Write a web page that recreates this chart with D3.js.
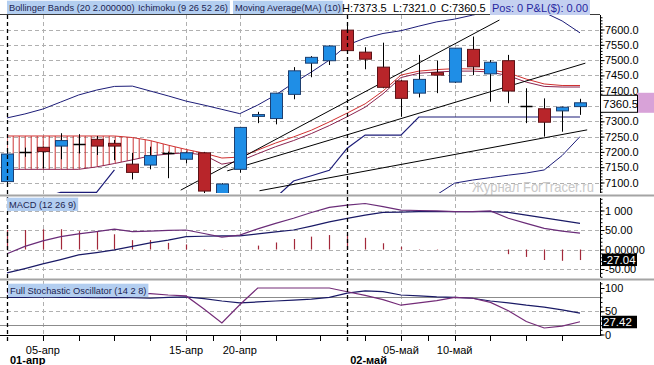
<!DOCTYPE html>
<html>
<head>
<meta charset="utf-8">
<script src="https://cdn.jsdelivr.net/npm/d3@7"></script>
<style>
  body { margin: 0; background: #fff; }
  svg text { font-family: "Liberation Sans", Arial, sans-serif; }
</style>
</head>
<body>
<svg id="chart" width="654" height="365"></svg>
<script>
// ---- data ----
const dates = ["01-апр","04-апр","05-апр","06-апр","07-апр","08-апр","11-апр","12-апр","13-апр","14-апр",
  "15-апр","18-апр","19-апр","20-апр","21-апр","26-апр","27-апр","28-апр","29-апр","02-май",
  "03-май","04-май","05-май","06-май","09-май","10-май","11-май","12-май","13-май","16-май",
  "17-май","18-май","19-май"];

const openP  = [7103,7201,7215,7219,7226,7241,7228,7160,7157,7195,7176,7197,7062,7143,7316,7309,7388,7490,7498,7598,7526,7477,7432,7392,7459,7428,7535,7455,7498,7351,7341,7334,7348];
const highP  = [7200,7214,7217,7261,7258,7252,7239,7197,7217,7201,7201,7200,7098,7282,7331,7393,7477,7513,7548,7622,7542,7557,7435,7517,7498,7540,7577,7500,7517,7408,7375,7348,7373.5];
const lowP   = [7090,7184,7146,7176,7195,7190,7173,7110,7143,7114,7163,7060,7050,7132,7294,7290,7372,7444,7484,7528,7470,7408,7315,7378,7392,7425,7451,7364,7359,7294,7250,7266,7321];
const closeP = [7193,7201,7201,7237,7226,7219,7219,7133,7188,7195,7197,7072,7095,7280,7322,7392,7465,7509,7546,7531,7503,7411,7375,7437,7451,7539,7478,7493,7399,7351,7297,7346,7360.5];

const bbUpper = [7311,7324,7340,7363,7386,7402,7414,7415,7399,7383,7366,7353,7339,7325,7353,7386,7425,7461,7500,7549,7572,7587,7596,7611,7625,7634,7647,7660,7668,7668,7656,7628,7589];
const bbLower = [null,null,null,null,null,null,null,null,null,null,null,null,null,null,null,null,null,null,null,null,null,null,null,null,7060,7098,7108,7116,7124,7131,7141,7188,7250];
const spanA = [7252,7252,7252,7252,7252,7252,7252,7247,7237,7222,7208,7196,7180,7183,7206,7229,7249,7271,7298,7327,7357,7399,7451,7464,7469,7472,7471,7468,7458,7438,7422,7417,7417];
const spanB = [7143,7143,7143,7143,7143,7151,7162,7174,7187,7193,7197,7190,7160,7170,7194,7217,7237,7260,7286,7315,7346,7390,7443,7457,7461,7464,7464,7461,7449,7428,7414,7412,7412];
const kijun = [null,null,7050,7068,7068,7068,7141,null,null,null,null,null,null,null,null,7050,7105,7122,7140,7212,7255,7255,7255,7314,7314,7314,7314,7314,7314,7314,7314,7314,7314];
const cloudEnd = 11;

// user trend lines: [index, price] end points
const trendLines = [
  [[9.7, 7075], [27.5, 7631]],
  [[12.3, 7138], [32.3, 7490]],
  [[14.1, 7073], [32.4, 7272]]
];

const macdLine   = [-11,8,22,33,40,46,52,46,47,49,50,41,32,37,53,67,80,95,108,114,118,110,101,100,99,97,97,99,80,67,54,47,42];
const signalLine = [-60,-49,-37,-26,-14,-8,-1,8,17,24,33,34,35,35,40,45,50,60,71,80,88,95,96,97,97,97,97,97,95,88,81,74,67];
const macdHist   = [50,50,52,52,47,46,39,24,24,17,13,1,1,0,10,18,27,33,37,38,30,16,7,1,1,0,0,0,-12,-19,-27,-29,-27.04];

const stochK = [90,92,90,93,91,89,90,88,88,85,83,55,25,64,100,100,100,100,100,92,84,75,63,68,73,80,78,69,51,28,14,18,27.42];
const stochD = [80,80,81,80,80,79,80,79,78,80,81,77,72,68,70,72,74,76,80,89,94,92,85,83,81,80,78,72,68,63,59,53,46];

const priceTicks = [7100,7150,7200,7250,7300,7350,7400,7450,7500,7550,7600];
const priceLabelTicks = [7100,7150,7200,7250,7300,7400,7450,7500,7550,7600];
const macdTicks = [100,50,0,-50];
const macdTickText = ["1 000","50.00","0.00000","-50.00"];
const stochTicks = [100,50,0];
const dateTickIdx = [2,10,13,22,25];
const monthIdx = [0,19];
const minorDateIdx = [2,4,6,8,10,11.5,13,15,17.5,20,22,23.5,25,27,29,31];

// ---- layout ----
const axisX = 600.5;
const main = {top: 15, bottom: 193};
const macdP = {top: 197, bottom: 278};
const stochP = {top: 281, bottom: 335};

const svg = d3.select("#chart");
const x = d3.scaleLinear().domain([0, dates.length - 1]).range([7, 580]);
const y = d3.scaleLinear().domain([7100, 7600]).range([182.5, 29.5]);
const yM = d3.scaleLinear().domain([-50, 100]).range([269, 210.5]);
const yS = d3.scaleLinear().domain([0, 100]).range([334.5, 288]);

const defs = svg.append("defs");
[["clipMain", main], ["clipMacd", macdP], ["clipStoch", stochP]].forEach(([id, p]) => {
  defs.append("clipPath").attr("id", id).append("rect")
    .attr("x", 0).attr("y", p.top).attr("width", 600).attr("height", p.bottom - p.top);
});
const pat = defs.append("pattern").attr("id", "hatch").attr("patternUnits", "userSpaceOnUse")
  .attr("x", 0.7).attr("width", 6).attr("height", 10);
pat.append("line").attr("x1", 0.5).attr("x2", 0.5).attr("y1", 0).attr("y2", 10)
  .attr("stroke", "#cc3535").attr("stroke-width", 1);

// gridlines
const grid = svg.append("g").attr("stroke", "#b0b0b0").attr("stroke-dasharray", "4,3").attr("stroke-width", 1);
priceTicks.forEach(t => grid.append("line").attr("x1", 0).attr("x2", 600)
  .attr("y1", Math.round(y(t)) + 0.5).attr("y2", Math.round(y(t)) + 0.5));
macdTicks.forEach(t => grid.append("line").attr("x1", 0).attr("x2", 600)
  .attr("y1", Math.round(yM(t)) + 0.5).attr("y2", Math.round(yM(t)) + 0.5));
grid.append("line").attr("x1", 0).attr("x2", 600)
  .attr("y1", Math.round(yS(50)) + 0.5).attr("y2", Math.round(yS(50)) + 0.5);
[80, 20].forEach(t => svg.append("line").attr("x1", 0).attr("x2", 600)
  .attr("y1", Math.round(yS(t)) + 0.5).attr("y2", Math.round(yS(t)) + 0.5)
  .attr("stroke", "#8c8c8c").attr("stroke-width", 1));
dateTickIdx.forEach(i => grid.append("line")
  .attr("x1", Math.round(x(i)) + 0.5).attr("x2", Math.round(x(i)) + 0.5)
  .attr("y1", main.top).attr("y2", stochP.bottom));

// ---- main price panel ----
const gMain = svg.append("g").attr("clip-path", "url(#clipMain)");
const idx = d3.range(dates.length);

const cloudIdx = idx.filter(i => i <= cloudEnd);
gMain.append("path").datum(cloudIdx)
  .attr("d", d3.area().x(i => x(i)).y0(i => y(spanA[i])).y1(i => y(spanB[i])))
  .attr("fill", "url(#hatch)");

function seriesLine(g, arr, sc, color, w) {
  g.append("path").datum(idx)
    .attr("d", d3.line().defined(i => arr[i] != null).x(i => x(i)).y(i => sc(arr[i])))
    .attr("fill", "none").attr("stroke", color).attr("stroke-width", w || 1);
}
seriesLine(gMain, spanB, y, "#8a2450", 1);
seriesLine(gMain, spanA, y, "#d03030", 1);
seriesLine(gMain, bbUpper, y, "#1c1c78", 1);
seriesLine(gMain, bbLower, y, "#1c1c78", 1);
seriesLine(gMain, kijun, y, "#1c1c78", 1.2);

trendLines.forEach(seg => {
  gMain.append("line")
    .attr("x1", x(seg[0][0])).attr("y1", y(seg[0][1]))
    .attr("x2", x(seg[1][0])).attr("y2", y(seg[1][1]))
    .attr("stroke", "#000").attr("stroke-width", 1);
});

// candles
const candles = gMain.selectAll(".candle").data(idx).enter().append("g").attr("class", "candle");
candles.append("line")
  .attr("x1", i => Math.round(x(i)) + 0.5).attr("x2", i => Math.round(x(i)) + 0.5)
  .attr("y1", i => y(highP[i])).attr("y2", i => y(lowP[i]))
  .attr("stroke", "#000").attr("stroke-width", 1);
candles.filter(i => openP[i] !== closeP[i]).append("rect")
  .attr("x", i => Math.round(x(i)) - 5.5)
  .attr("width", 12)
  .attr("y", i => y(Math.max(openP[i], closeP[i])))
  .attr("height", i => Math.max(1, Math.abs(y(openP[i]) - y(closeP[i]))))
  .attr("fill", i => closeP[i] > openP[i] ? "#1f8ee6" : "#b8252a")
  .attr("stroke", i => closeP[i] > openP[i] ? "#1d3f70" : "#5c1216")
  .attr("stroke-width", 1);
candles.filter(i => openP[i] === closeP[i]).append("line")
  .attr("x1", i => Math.round(x(i)) - 5.5).attr("x2", i => Math.round(x(i)) + 6.5)
  .attr("y1", i => Math.round(y(openP[i])) + 0.5).attr("y2", i => Math.round(y(openP[i])) + 0.5)
  .attr("stroke", "#000").attr("stroke-width", 1.5);

// watermark, squeezed horizontally to fit left of the price axis
const wm = svg.append("text").attr("font-size", 15).attr("fill", "#c8c8c8").text("Журнал ForTracer.ru");
const wmScale = 122 / wm.node().getComputedTextLength();
wm.attr("transform", `translate(472,192) scale(${wmScale},1)`);

// ---- MACD panel ----
const gMacd = svg.append("g").attr("clip-path", "url(#clipMacd)");
gMacd.selectAll(".hist").data(idx.filter(i => macdHist[i] !== 0)).enter().append("line")
  .attr("x1", i => Math.round(x(i)) + 0.5).attr("x2", i => Math.round(x(i)) + 0.5)
  .attr("y1", yM(0)).attr("y2", i => yM(macdHist[i]))
  .attr("stroke", "#a3283a").attr("stroke-width", 1.2);
seriesLine(gMacd, signalLine, yM, "#1a1a66", 1.2);
seriesLine(gMacd, macdLine, yM, "#6a2c78", 1.2);

// ---- Stochastic panel ----
const gSt = svg.append("g").attr("clip-path", "url(#clipStoch)");
seriesLine(gSt, stochD, yS, "#1a1a66", 1.2);
seriesLine(gSt, stochK, yS, "#742c78", 1.2);

// month separators
monthIdx.forEach(i => svg.append("line")
  .attr("x1", Math.round(x(i)) + 0.5).attr("x2", Math.round(x(i)) + 0.5)
  .attr("y1", main.top).attr("y2", 341)
  .attr("stroke", "#000").attr("stroke-width", 1.3).attr("stroke-dasharray", "4,3"));

// panel frames
svg.append("line").attr("x1", 0).attr("x2", 600).attr("y1", 14.5).attr("y2", 14.5)
  .attr("stroke", "#3a3a3a");
[195.5, 279.5].forEach(v => svg.append("line").attr("x1", 0).attr("x2", 654)
  .attr("y1", v).attr("y2", v).attr("stroke", "#a4a4a4").attr("stroke-width", 2));
svg.append("line").attr("x1", 0).attr("x2", 600).attr("y1", 335.5).attr("y2", 335.5)
  .attr("stroke", "#000");

// ---- right axes ----
function rightAxis(sc, p, major, labelled, fmt, minorStep) {
  const g = svg.append("g").attr("transform", `translate(${axisX},0)`);
  const minor = d3.range(Math.ceil(sc.invert(p.bottom) / minorStep) * minorStep, sc.invert(p.top), minorStep);
  g.append("g").call(d3.axisRight(sc).tickValues(minor).tickSize(2).tickFormat(""))
    .call(a => a.select(".domain").remove());
  g.append("g").call(d3.axisRight(sc).tickValues(major).tickSize(4).tickFormat(""))
    .call(a => a.select(".domain").remove());
  g.append("g").call(d3.axisRight(sc).tickValues(labelled).tickSize(0).tickPadding(4.5).tickFormat(fmt))
    .call(a => a.select(".domain").remove())
    .call(a => a.selectAll("text").attr("font-size", 11).attr("fill", "#000")
      .attr("font-family", "Liberation Sans, Arial, sans-serif"));
  g.selectAll(".tick line").attr("stroke", "#000");
  g.append("line").attr("x1", 0).attr("x2", 0).attr("y1", p.top).attr("y2", p.bottom).attr("stroke", "#000");
  return g;
}
rightAxis(y, {top: 15, bottom: 193}, priceTicks, priceLabelTicks, d3.format(".1f"), 10);
rightAxis(yM, {top: 198, bottom: 277}, macdTicks, macdTicks, (d) => macdTickText[macdTicks.indexOf(d)], 10);
rightAxis(yS, {top: 282, bottom: 336}, stochTicks, stochTicks, d => String(d), 10);

// value markers
const lastC = closeP[closeP.length - 1];
const cy = y(lastC) + 1;
svg.append("rect").attr("x", 637).attr("y", cy - 11).attr("width", 17).attr("height", 20).attr("fill", "#d8a2d8");
svg.append("rect").attr("x", 600.5).attr("y", cy - 8.5).attr("width", 37).attr("height", 17)
  .attr("fill", "#fff").attr("stroke", "#000");
svg.append("text").attr("x", 603).attr("y", cy + 4).attr("font-size", 11.5).text(lastC.toFixed(1));

function darkTag(val, yy) {
  svg.append("rect").attr("x", 602).attr("y", yy - 6).attr("width", 35).attr("height", 12.5).attr("fill", "#000");
  svg.append("text").attr("x", 603).attr("y", yy + 4.5).attr("font-size", 11.5).attr("fill", "#fff").text(val.toFixed(2));
}
darkTag(macdHist[macdHist.length - 1], yM(macdHist[macdHist.length - 1]) - 0.5);
darkTag(stochK[stochK.length - 1], yS(stochK[stochK.length - 1]));

// ---- date axis ----
const gx = svg.append("g");
minorDateIdx.forEach(i => gx.append("line")
  .attr("x1", Math.round(x(i)) + 0.5).attr("x2", Math.round(x(i)) + 0.5)
  .attr("y1", 336).attr("y2", 341).attr("stroke", "#000"));
dateTickIdx.forEach(i => gx.append("text").attr("x", x(i)).attr("y", 354)
  .attr("text-anchor", "middle").attr("font-size", 11).text(dates[i]));
monthIdx.forEach(i => gx.append("text").attr("x", x(i) + 3).attr("y", 364)
  .attr("font-size", 11).attr("font-weight", "bold").text(dates[i]));

// ---- panel labels ----
function tag(tx, ty, txt, size, bg, fg) {
  const t = svg.append("text").attr("x", tx).attr("y", ty).attr("font-size", size).attr("fill", fg).text(txt);
  const w = t.node().getComputedTextLength();
  svg.insert("rect", () => t.node()).attr("x", tx - 2).attr("y", ty - size - 1)
    .attr("width", w + 4).attr("height", size + 4).attr("fill", bg);
  return t;
}
const lblBg = "#b3cef0";
tag(9, 11, "Bollinger Bands (20 2.000000)", 9.3, lblBg, "#1c2450");
tag(138, 11, "Ichimoku (9 26 52 26)", 9.3, lblBg, "#1c2450");
tag(235, 11, "Moving Average(MA) (10)", 9.3, lblBg, "#1c2450");
svg.append("text").attr("x", 342).attr("y", 12).attr("font-size", 11).text("H:" + highP[32].toFixed(1));
svg.append("text").attr("x", 393).attr("y", 12).attr("font-size", 11).text("L:" + lowP[32].toFixed(1));
svg.append("text").attr("x", 441).attr("y", 12).attr("font-size", 11).text("C:" + closeP[32].toFixed(1));
tag(492, 12, "Pos: 0 P&L($): 0.00", 11, "#c4d0f0", "#2626a0");
tag(9, 208, "MACD (12 26 9)", 9.3, lblBg, "#1c2450");
tag(10, 294, "Full Stochastic Oscillator (14 2 8)", 9.3, lblBg, "#1c2450");
</script>
</body>
</html>
